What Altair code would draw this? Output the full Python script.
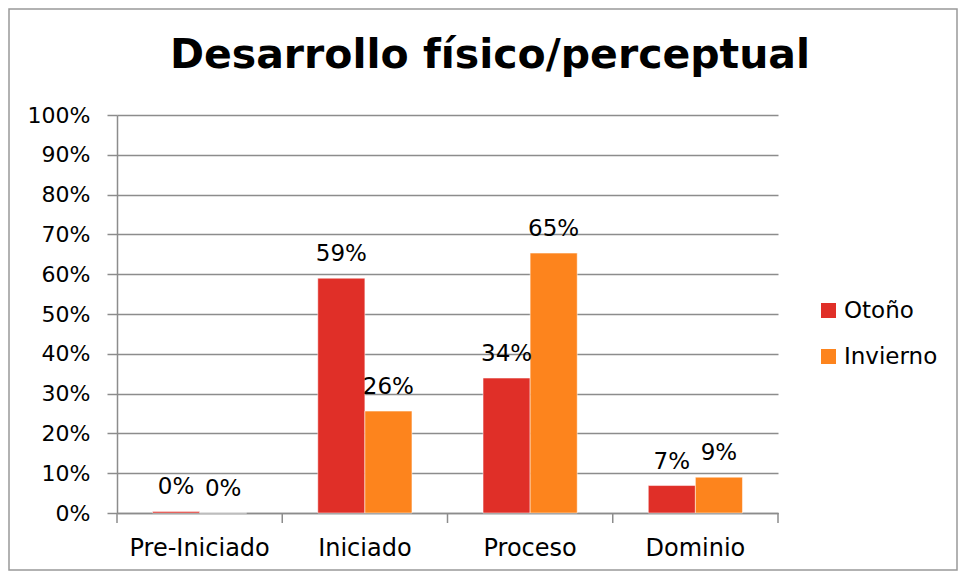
import altair as alt
import pandas as pd

categories = ["Pre-Iniciado", "Iniciado", "Proceso", "Dominio"]
series = ["Otoño", "Invierno"]
otono = [0.004, 0.59, 0.339, 0.069]
invierno = [0.0, 0.256, 0.653, 0.09]
colors = ["#E02F28", "#FD841D"]
title_text = "Desarrollo físico/perceptual"
y_ticks = [0.0, 0.1, 0.2, 0.3, 0.4, 0.5, 0.6, 0.7, 0.8, 0.9, 1.0]

rows = []
for c, a, b in zip(categories, otono, invierno):
    rows.append({"cat": c, "serie": series[0], "val": a})
    rows.append({"cat": c, "serie": series[1], "val": b})
df = pd.DataFrame(rows)

W, H = 661, 398
FONT = "DejaVu Sans"
GRID = "#8c8c8c"

xscale = alt.Scale(domain=categories, paddingInner=0, paddingOuter=0)
xoff = alt.XOffset("serie:N", sort=series,
                   scale=alt.Scale(domain=series, paddingInner=0, paddingOuter=0.755))
yscale = alt.Scale(domain=[0, 1])

x_axis = alt.Axis(title=None, labelAngle=0, ticks=False, labelPadding=23,
                  labelFontSize=24, labelFont=FONT, labelColor="#000",
                  domainColor=GRID, domainWidth=1.5)
y_axis = alt.Axis(title=None, values=y_ticks, format=".0%", labelOverlap=False,
                  tickSize=10, tickColor=GRID, tickWidth=1.5, labelPadding=17,
                  labelFontSize=22, labelFont=FONT, labelColor="#000",
                  gridColor=GRID, gridWidth=1.5,
                  domainColor=GRID, domainWidth=1.5)

base = alt.Chart(df)

bars = base.mark_bar(stroke="white", strokeWidth=0.5).encode(
    x=alt.X("cat:N", sort=categories, scale=xscale, axis=x_axis),
    xOffset=xoff,
    y=alt.Y("val:Q", scale=yscale, axis=y_axis),
    color=alt.Color("serie:N", sort=series,
                    scale=alt.Scale(domain=series, range=colors),
                    legend=alt.Legend(title=None, orient="none", legendX=700, legendY=184,
                                      symbolType="square", symbolSize=225,
                                      symbolStrokeWidth=0, labelFontSize=23,
                                      labelFont=FONT, labelColor="#000",
                                      rowPadding=22, labelOffset=4)),
)

labels = base.mark_text(fontSize=23, font=FONT, baseline="alphabetic", dy=-17,
                        color="#000").encode(
    x=alt.X("cat:N", sort=categories, scale=xscale, axis=x_axis),
    xOffset=xoff,
    y=alt.Y("val:Q", scale=yscale, axis=y_axis),
    text=alt.Text("val:Q", format=".0%"),
)

tick_df = pd.DataFrame({"cat": categories})
xticks = alt.Chart(tick_df).mark_rule(color=GRID, strokeWidth=1.5).encode(
    x=alt.X("cat:N", sort=categories, scale=xscale, bandPosition=0, axis=x_axis),
    y=alt.value(H), y2=alt.value(H + 10),
)
end_tick = alt.Chart(pd.DataFrame({"k": [0]})).mark_rule(color=GRID, strokeWidth=1.5).encode(
    x=alt.value(W), y=alt.value(H), y2=alt.value(H + 10),
)

title = alt.Chart(pd.DataFrame({"t": [title_text]})).mark_text(
    font=FONT, fontSize=41, fontWeight="bold", align="center",
    baseline="alphabetic", color="#000").encode(
    x=alt.value(373), y=alt.value(-47), text="t:N")

border = alt.Chart(pd.DataFrame({"k": [0]})).mark_rect(
    fill=None, stroke="#999999", strokeWidth=1.5).encode(
    x=alt.value(-108), x2=alt.value(W + 179), y=alt.value(-106), y2=alt.value(H + 57))

chart = alt.layer(border, bars, labels, xticks, end_tick, title).properties(
    width=W, height=H,
    background="white",
    autosize=alt.AutoSizeParams(type="none"),
    padding={"left": 109, "top": 107, "right": 181, "bottom": 59},
).configure_view(stroke=None, strokeWidth=0)

chart.save("out.html", embed_options={"renderer": "svg", "actions": False})
